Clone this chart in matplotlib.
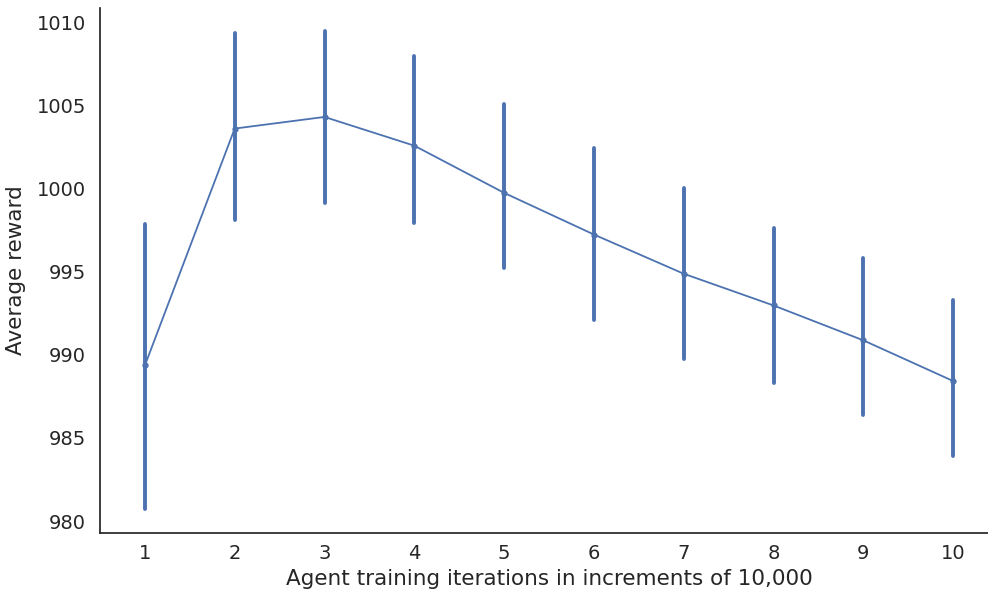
import matplotlib
matplotlib.use("Agg")
import matplotlib.pyplot as plt
import numpy as np

# Training iteration (in units of 10,000) and reward statistics
iterations = [1, 2, 3, 4, 5, 6, 7, 8, 9, 10]
mean_reward = [989.37, 1003.63, 1004.33, 1002.60, 999.76, 997.25, 994.89, 992.98, 990.88, 988.43]
ci_low = [980.70, 998.15, 999.16, 997.97, 995.25, 992.10, 989.74, 988.29, 986.39, 983.92]
ci_high = [997.90, 1009.38, 1009.48, 1008.02, 1005.13, 1002.46, 1000.06, 997.65, 995.85, 993.28]

color = "#4C72B0"
text_color = "#262626"

plt.rcParams["font.family"] = ["DejaVu Sans"]

fig = plt.figure(figsize=(9.88, 5.92), dpi=100)
ax = fig.add_axes([100 / 988, 58.7 / 592, 898 / 988, 525.8 / 592])

x = np.array(iterations)
m = np.array(mean_reward)
lo = np.array(ci_low)
hi = np.array(ci_high)

ax.vlines(x, lo, hi, color=color, lw=2.8, capstyle="round", zorder=2)
ax.plot(x, m, color=color, lw=1.3, marker="o", markersize=3.5, zorder=3)

ax.set_xlim(0.5, 10.5)
ax.set_ylim(979.26, 1010.92)
ax.set_xticks(iterations)
ax.set_yticks([980, 985, 990, 995, 1000, 1005, 1010])

for side in ("top", "right"):
    ax.spines[side].set_visible(False)
for side in ("left", "bottom"):
    ax.spines[side].set_color(text_color)
    ax.spines[side].set_linewidth(1.25)

ax.tick_params(axis="x", length=0, pad=8, labelsize=14, colors=text_color)
ax.tick_params(axis="y", length=0, pad=10, labelsize=14, colors=text_color)
ax.set_xlabel("Agent training iterations in increments of 10,000", fontsize=15.5, color=text_color, labelpad=4)
ax.set_ylabel("Average reward", fontsize=15.5, color=text_color, labelpad=8)

fig.savefig("out.png", dpi=100)
